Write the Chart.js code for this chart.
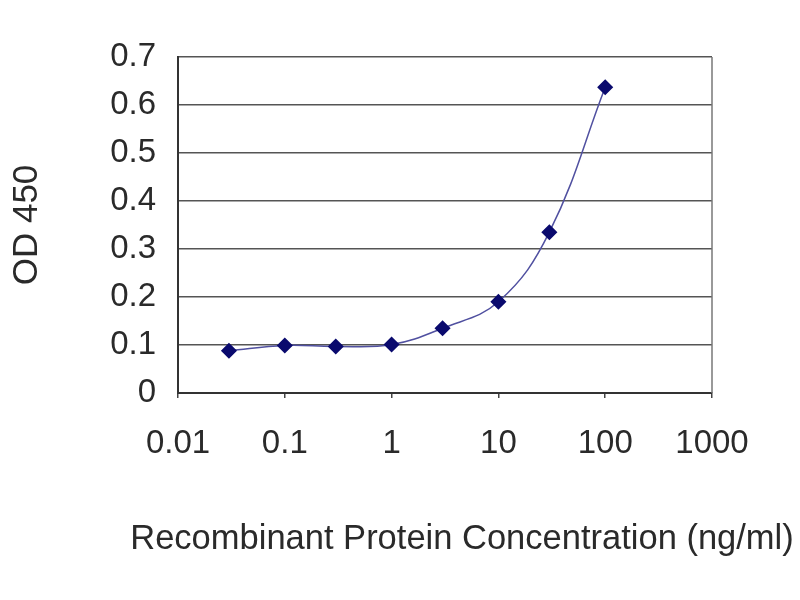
<!DOCTYPE html>
<html>
<head>
<meta charset="utf-8">
<script src="https://cdn.jsdelivr.net/npm/chart.js@4/dist/chart.umd.min.js"></script>
<style>
  html, body { margin: 0; padding: 0; background: #fff; }
  #wrap { width: 800px; height: 600px; }
</style>
</head>
<body>
<div id="wrap"><canvas id="odChart" width="800" height="600"></canvas></div>
<script>
// Data
const concentrations = [0.03, 0.1, 0.3, 1, 3, 10, 30, 100];
const odValues = [0.088, 0.099, 0.097, 0.101, 0.135, 0.19, 0.335, 0.637];
const xTickValues = [0.01, 0.1, 1, 10, 100, 1000];
const yTickValues = [0, 0.1, 0.2, 0.3, 0.4, 0.5, 0.6, 0.7];
const xTitle = 'Recombinant Protein Concentration (ng/ml)';

const textColor = '#2a2a2a';
const fontFamily = '"Liberation Sans", Arial, sans-serif';

// grey frame on the right of the plot, plus the x-axis title
// (Chart.js squeezes the title to the axis width, the original runs wider)
const plotExtras = {
    id: 'plotExtras',
    beforeDatasetsDraw(chart) {
        const { ctx, chartArea } = chart;
        ctx.save();
        ctx.strokeStyle = '#777';
        ctx.lineWidth = 1.5;
        ctx.beginPath();
        ctx.moveTo(chartArea.right, chartArea.top);
        ctx.lineTo(chartArea.right, chartArea.bottom);
        ctx.stroke();
        ctx.restore();
    },
    afterDraw(chart) {
        const { ctx, chartArea } = chart;
        ctx.save();
        ctx.fillStyle = textColor;
        ctx.font = '34.5px ' + fontFamily;
        ctx.textAlign = 'center';
        ctx.textBaseline = 'middle';
        ctx.fillText(xTitle, (chartArea.left + chartArea.right) / 2 + 17, chartArea.bottom + 146);
        ctx.restore();
    }
};

const ctx = document.getElementById('odChart').getContext('2d');
const odChart = new Chart(ctx, {
    type: 'scatter',
    data: {
        datasets: [{
            label: 'OD 450',
            data: concentrations.map((c, i) => ({ x: c, y: odValues[i] })),
            showLine: true,
            borderColor: '#5050a0',
            borderWidth: 1.5,
            tension: 0.4,
            pointStyle: 'rectRot',
            pointRadius: 7,
            pointBackgroundColor: '#0a0a6e',
            pointBorderColor: '#0a0a6e'
        }]
    },
    options: {
        responsive: false,
        animation: false,
        layout: {
            padding: { top: 57, right: 88, left: 0, bottom: 0 }
        },
        plugins: {
            legend: { display: false },
            tooltip: { enabled: false }
        },
        scales: {
            x: {
                type: 'logarithmic',
                min: 0.01,
                max: 1000,
                afterBuildTicks: scale => {
                    scale.ticks = xTickValues.map(v => ({ value: v }));
                },
                afterFit: scale => { scale.height = 207; },
                ticks: {
                    color: textColor,
                    font: { family: fontFamily, size: 33 },
                    padding: 26,
                    maxRotation: 0,
                    autoSkip: false,
                    callback: v => String(v)
                },
                grid: {
                    drawOnChartArea: false,
                    tickLength: 5,
                    color: '#444',
                    lineWidth: 1.5
                },
                border: { color: '#333', width: 2 }
            },
            y: {
                min: 0,
                max: 0.7,
                afterBuildTicks: scale => {
                    scale.ticks = yTickValues.map(v => ({ value: v }));
                },
                afterFit: scale => { scale.width = 178; },
                ticks: {
                    color: textColor,
                    font: { family: fontFamily, size: 33 },
                    padding: 22,
                    callback: v => String(+v.toFixed(1))
                },
                grid: {
                    color: '#555',
                    lineWidth: 1.5,
                    drawTicks: false
                },
                border: { color: '#333', width: 2 },
                title: {
                    display: true,
                    text: 'OD 450',
                    color: textColor,
                    font: { family: fontFamily, size: 35 },
                    padding: { top: 6, bottom: 0 }
                }
            }
        }
    },
    plugins: [plotExtras]
});
</script>
</body>
</html>
